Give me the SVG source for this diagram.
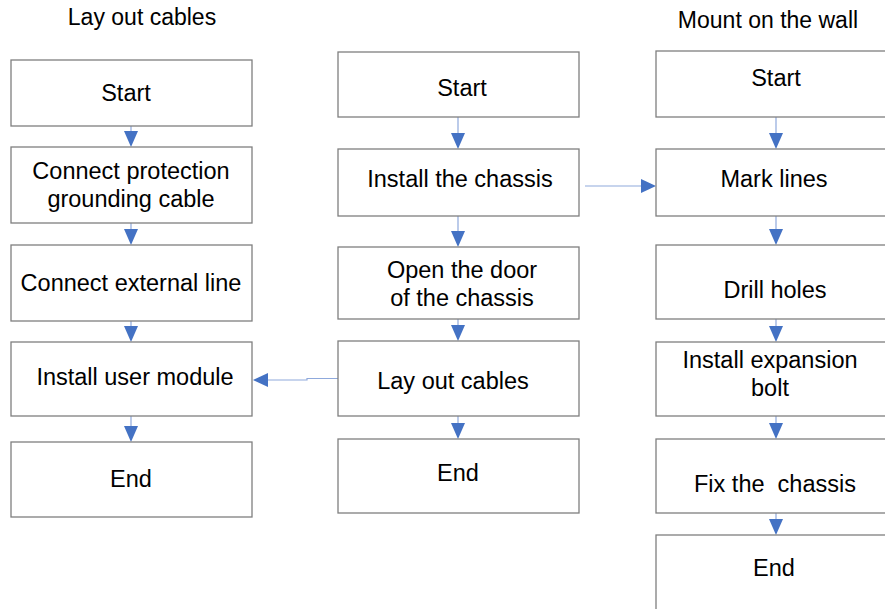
<svg xmlns="http://www.w3.org/2000/svg" width="885" height="609" viewBox="0 0 885 609">
<style>
.box{fill:#fff;stroke:#7f7f7f;stroke-width:1.3}
.t{font-family:"Liberation Sans",Arial,sans-serif;font-size:23.5px;fill:#000;text-anchor:middle;white-space:pre}
.h{font-family:"Liberation Sans",Arial,sans-serif;font-size:23px;fill:#000;text-anchor:middle}
.ln{stroke:#8fa9dc;stroke-width:1.2;fill:none}
.ah{fill:#4472c4}
</style>
<rect width="885" height="609" fill="#fff"/>
<text class="h" x="142" y="25">Lay out cables</text>
<text class="h" x="768" y="28">Mount on the wall</text>
<g id="connectors">
<path class="ln" d="M131 126V132M131 223V230M131 321V328M131 416V427"/>
<path class="ah" d="M124 131H138L131 147ZM124 229H138L131 245ZM124 326H138L131 342ZM124 426H138L131 442Z"/>
<path class="ln" d="M458 117V134M458 216V232M458 319V326M458 416V423"/>
<path class="ah" d="M451 133H465L458 149ZM451 231H465L458 247ZM451 325H465L458 341ZM451 423H465L458 439Z"/>
<path class="ln" d="M776 117V134M776 216V230M776 319V326M776 416V424M776 513V520"/>
<path class="ah" d="M769 133H783L776 149ZM769 229H783L776 245ZM769 326H783L776 342ZM769 423H783L776 439ZM769 519H783L776 535Z"/>
<path class="ln" d="M585 186H642"/>
<path class="ah" d="M641 179V193L656 186Z"/>
<path class="ln" d="M338 378.5H307V380H267"/>
<path class="ah" d="M268 373V387L253 380Z"/>
</g>
<g id="l-start"><rect class="box" x="11" y="60" width="241" height="66"/><text class="t" x="126" y="101">Start</text></g>
<g id="l-ground"><rect class="box" x="11" y="147" width="241" height="76"/><text class="t" x="131" y="179">Connect protection</text><text class="t" x="131" y="207">grounding cable</text></g>
<g id="l-ext"><rect class="box" x="11" y="245" width="241" height="76"/><text class="t" x="131" y="291">Connect external line</text></g>
<g id="l-user"><rect class="box" x="11" y="342" width="241" height="74"/><text class="t" x="135" y="385">Install user module</text></g>
<g id="l-end"><rect class="box" x="11" y="442" width="241" height="75"/><text class="t" x="131" y="487">End</text></g>
<g id="m-start"><rect class="box" x="338" y="52" width="241" height="65"/><text class="t" x="462" y="96">Start</text></g>
<g id="m-chassis"><rect class="box" x="338" y="149" width="241" height="67"/><text class="t" x="460" y="187">Install the chassis</text></g>
<g id="m-door"><rect class="box" x="338" y="247" width="241" height="72"/><text class="t" x="462" y="278">Open the door</text><text class="t" x="462" y="306">of the chassis</text></g>
<g id="m-cables"><rect class="box" x="338" y="341" width="241" height="75"/><text class="t" x="453" y="389">Lay out cables</text></g>
<g id="m-end"><rect class="box" x="338" y="439" width="241" height="74"/><text class="t" x="458" y="481">End</text></g>
<g id="r-start"><rect class="box" x="656" y="51" width="260" height="66"/><text class="t" x="776" y="86">Start</text></g>
<g id="r-mark"><rect class="box" x="656" y="149" width="260" height="67"/><text class="t" x="774" y="187">Mark lines</text></g>
<g id="r-drill"><rect class="box" x="656" y="245" width="260" height="74"/><text class="t" x="775" y="298">Drill holes</text></g>
<g id="r-bolt"><rect class="box" x="656" y="342" width="260" height="74"/><text class="t" x="770" y="368">Install expansion</text><text class="t" x="770" y="396">bolt</text></g>
<g id="r-fix"><rect class="box" x="656" y="439" width="260" height="74"/><text class="t" x="775" y="492">Fix the  chassis</text></g>
<g id="r-end"><rect class="box" x="656" y="535" width="260" height="90"/><text class="t" x="774" y="576">End</text></g>
</svg>
